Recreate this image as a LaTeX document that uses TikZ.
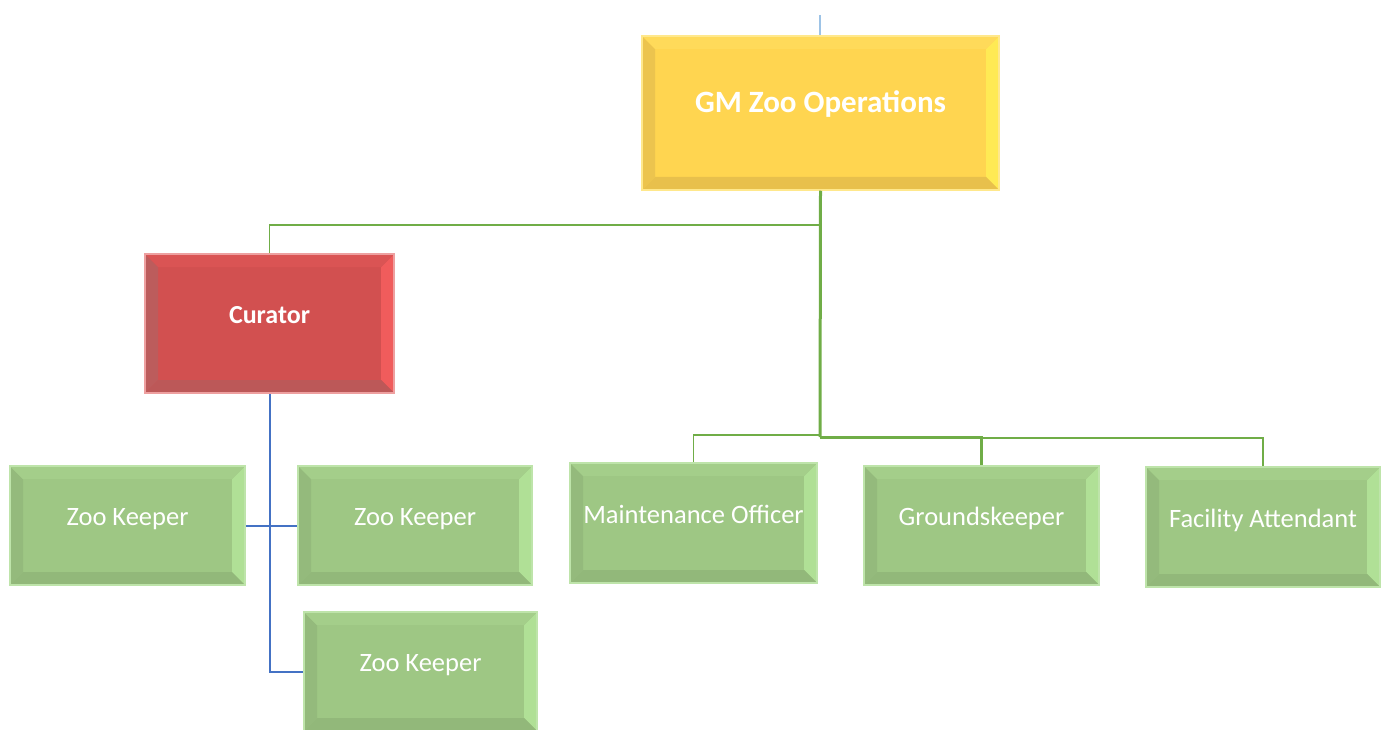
\documentclass[tikz,border=0pt]{standalone}
\usepackage{fontspec}
\setmainfont{Carlito}
\usepackage{tikz}
\usetikzlibrary{calc}

\definecolor{gmface}{RGB}{255,213,80}
\definecolor{gmedge}{RGB}{255,232,140}
\definecolor{gmtop}{RGB}{255,218,90}
\definecolor{gmright}{RGB}{255,234,84}
\definecolor{gmbottom}{RGB}{232,192,76}
\definecolor{gmleft}{RGB}{236,196,78}

\definecolor{curface}{RGB}{210,80,80}
\definecolor{curedge}{RGB}{238,160,160}
\definecolor{curtop}{RGB}{218,84,84}
\definecolor{curright}{RGB}{240,92,92}
\definecolor{curbottom}{RGB}{188,88,88}
\definecolor{curleft}{RGB}{188,92,92}

\definecolor{zkface}{RGB}{158,199,132}
\definecolor{zkedge}{RGB}{190,228,170}
\definecolor{zktop}{RGB}{164,206,138}
\definecolor{zkright}{RGB}{176,224,150}
\definecolor{zkbottom}{RGB}{146,184,122}
\definecolor{zkleft}{RGB}{148,186,124}

\definecolor{linegreen}{RGB}{112,173,71}
\definecolor{lineblue}{RGB}{68,114,196}
\definecolor{lightblue}{RGB}{157,195,230}

\newcommand{\bv}{13pt}

\tikzset{
	bevel/.style={fill=#1face, draw=#1edge, line width=1.5pt, inner sep=0pt,
		text=white, text height=0.8em, text depth=0.8em,
		path picture={
			\fill[#1left] (path picture bounding box.north west) -- (path picture bounding box.south west)
				-- ([shift={(\bv,\bv)}]path picture bounding box.south west)
				-- ([shift={(\bv,-\bv)}]path picture bounding box.north west) -- cycle;
			\fill[#1right] (path picture bounding box.north east) -- (path picture bounding box.south east)
				-- ([shift={(-\bv,\bv)}]path picture bounding box.south east)
				-- ([shift={(-\bv,-\bv)}]path picture bounding box.north east) -- cycle;
			\fill[#1top] (path picture bounding box.north west) -- (path picture bounding box.north east)
				-- ([shift={(-\bv,-\bv)}]path picture bounding box.north east)
				-- ([shift={(\bv,-\bv)}]path picture bounding box.north west) -- cycle;
			\fill[#1bottom] (path picture bounding box.south west) -- (path picture bounding box.south east)
				-- ([shift={(-\bv,\bv)}]path picture bounding box.south east)
				-- ([shift={(\bv,\bv)}]path picture bounding box.south west) -- cycle;
		}},
	staff/.style={bevel=zk, minimum width=235pt, minimum height=119pt,
		font=\fontsize{26.5}{30}\selectfont},
	greenlink/.style={linegreen, line width=1.6pt},
	bluelink/.style={lineblue, line width=2pt}
}

\begin{document}
\begin{tikzpicture}[x=1pt,y=-1pt]
	\useasboundingbox (0,0) rectangle (1384,730);

	% boxes
	\node (gm) [bevel=gm, minimum width=357pt, minimum height=154pt,
		font=\fontsize{31}{35}\selectfont\bfseries] at (820.5,113) {GM Zoo Operations};
	\node (cur) [bevel=cur, minimum width=249pt, minimum height=139pt,
		font=\fontsize{26}{30}\selectfont\bfseries] at (269.5,323.5) {Curator};

	\node (zk1) [staff] at (127.5,525.5) {Zoo Keeper};
	\node (zk2) [staff, minimum width=234pt] at (415,525.5) {Zoo Keeper};
	\node (zk3) [staff, minimum width=233pt] at (420.5,671.5) {Zoo Keeper};

	\node (mo) [staff, minimum width=247pt, minimum height=120pt] at (693.5,523) {Maintenance Officer};
	\node (gk) [staff] at (981.5,525.5) {Groundskeeper};
	\node (fa) [staff, minimum width=234pt, minimum height=120pt] at (1263,527) {Facility Attendant};

	% connectors
	\coordinate (topend) at (820,15);
	\coordinate (split) at (820,437);
	\draw[lightblue, line width=1.6pt] (topend) -- (topend |- gm.north);

	\draw[greenlink] (gm.south) -- ++(0,34) -| (cur.north);
	\draw[greenlink, line width=3pt] (gm.south) -- (split);
	\draw[greenlink] ([yshift=2pt]split) -| (mo.north);
	\draw[greenlink, line width=2.4pt] (split) -| (gk.north);
	\draw[greenlink] ([yshift=-1pt]split) -| (fa.north);

	\draw[bluelink] (cur.south) |- (zk3.west);
	\draw[bluelink] (zk1.east) -- (zk2.west);
\end{tikzpicture}
\end{document}
